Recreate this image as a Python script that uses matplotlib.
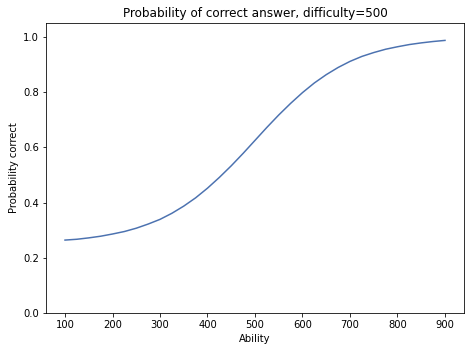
import matplotlib
matplotlib.use("Agg")
import matplotlib.pyplot as plt

# ability values and probability of correct answer
ability = [100, 125, 150, 175, 200, 225, 250, 275, 300, 325, 350, 375, 400, 425, 450, 475,
           500, 525, 550, 575, 600, 625, 650, 675, 700, 725, 750, 775, 800, 825, 850, 875, 900]
prob = [0.264, 0.267, 0.272, 0.278, 0.286, 0.295, 0.307, 0.322, 0.339, 0.361, 0.387, 0.417,
        0.452, 0.491, 0.533, 0.578, 0.625, 0.672, 0.717, 0.759, 0.798, 0.833, 0.863, 0.889,
        0.911, 0.929, 0.943, 0.955, 0.964, 0.972, 0.978, 0.983, 0.987]

fig = plt.figure(figsize=(472 / 72, 352 / 72), dpi=72)
ax = fig.add_axes([46 / 472, 39 / 352, 418 / 472, 290 / 352])

ax.plot(ability, prob, color="#4C72B0", linewidth=1.5)
ax.set_ylim(0, 1.05)
ax.set_xticks([100, 200, 300, 400, 500, 600, 700, 800, 900])
ax.tick_params(labelsize=10)
ax.set_title("Probability of correct answer, difficulty=500", fontsize=12)
ax.set_xlabel("Ability", fontsize=10)
ax.set_ylabel("Probability correct", fontsize=10)

fig.savefig("out.png", dpi=72)
